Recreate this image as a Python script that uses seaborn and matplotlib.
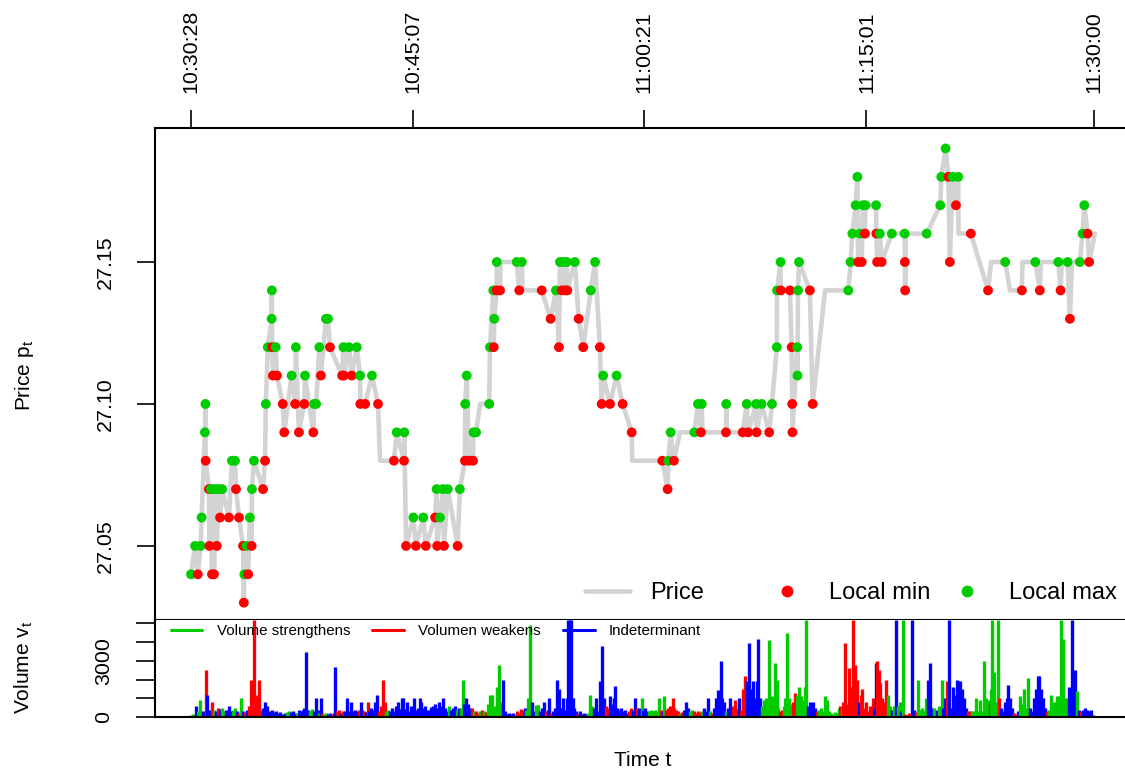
import numpy as np
import pandas as pd
import matplotlib
matplotlib.use("Agg")
import matplotlib.pyplot as plt
import seaborn as sns
from matplotlib.lines import Line2D

# ---------------- data ----------------
# price path: seconds after 10:30:28, price, marker kind (M = local max, m = local min, "" = none)
p_time = [0, 16, 27, 38, 42, 55, 57, 58, 71, 73, 79, 83, 87, 91, 99, 102, 111, 115, 123, 150,
          162, 174, 178, 190, 206, 209, 211, 220, 226, 233, 240, 241, 249, 285, 293, 296, 304, 319, 320, 321,
          324, 335, 340, 363, 369, 398, 412, 415, 427, 448, 451, 484, 487, 495, 508, 514, 534, 542, 550, 598,
          603, 605, 625, 636, 656, 669, 670, 689, 716, 740, 748, 803, 814, 843, 844, 851, 880, 890, 919, 929,
          966, 972, 974, 985, 997, 1001, 1016, 1055, 1064, 1084, 1085, 1091, 1100, 1116, 1118, 1128, 1144, 1180, 1183, 1196,
          1198, 1200, 1209, 1210, 1223, 1225, 1289, 1299, 1309, 1312, 1388, 1423, 1444, 1456, 1460, 1467, 1472, 1480, 1487, 1489,
          1519, 1534, 1552, 1582, 1599, 1618, 1625, 1631, 1658, 1684, 1708, 1744, 1746, 1865, 1886, 1889, 1898, 1911, 1935, 1992,
          2006, 2018, 2021, 2024, 2117, 2118, 2120, 2183, 2199, 2205, 2236, 2238, 2258, 2288, 2299, 2318, 2319, 2333, 2334, 2370,
          2377, 2379, 2380, 2399, 2400, 2402, 2406, 2449, 2460, 2509, 2601, 2610, 2617, 2630, 2637, 2640, 2647, 2654, 2659, 2667,
          2669, 2711, 2712, 2715, 2726, 2733, 2773, 2824, 2825, 2826, 2829, 2911, 2965, 2969, 2986, 2997, 3003, 3014, 3027, 3036,
          3037, 3086, 3154, 3166, 3222, 3241, 3288, 3290, 3341, 3359, 3363, 3432, 3441, 3446, 3469, 3478, 3486, 3517, 3528, 3535,
          3548, 3554, 3577]
p_price = [27.04, 27.05, 27.04, 27.05, 27.06, 27.09, 27.10, 27.08, 27.07, 27.05, 27.07, 27.04, 27.07, 27.04, 27.07, 27.05, 27.07, 27.06, 27.07, 27.06,
           27.08, 27.08, 27.07, 27.06, 27.05, 27.03, 27.04, 27.05, 27.04, 27.06, 27.05, 27.07, 27.08, 27.07, 27.08, 27.10, 27.12, 27.13, 27.14, 27.12,
           27.11, 27.12, 27.11, 27.10, 27.09, 27.11, 27.10, 27.12, 27.09, 27.10, 27.11, 27.09, 27.10, 27.10, 27.12, 27.11, 27.13, 27.13, 27.12, 27.11,
           27.12, 27.11, 27.12, 27.11, 27.12, 27.11, 27.10, 27.10, 27.11, 27.10, 27.08, 27.08, 27.09, 27.08, 27.09, 27.05, 27.06, 27.05, 27.06, 27.05,
           27.06, 27.07, 27.05, 27.06, 27.07, 27.05, 27.07, 27.05, 27.07, 27.08, 27.10, 27.11, 27.08, 27.08, 27.09, 27.09, 27.10, 27.10, 27.12, 27.14,
           27.12, 27.13, 27.14, 27.15, 27.14, 27.15, 27.15, 27.14, 27.15, 27.14, 27.14, 27.13, 27.14, 27.12, 27.15, 27.14, 27.15, 27.14, 27.15, 27.14,
           27.15, 27.13, 27.12, 27.14, 27.15, 27.12, 27.10, 27.11, 27.10, 27.11, 27.10, 27.09, 27.08, 27.08, 27.07, 27.08, 27.09, 27.08, 27.09, 27.09,
           27.10, 27.09, 27.10, 27.09, 27.09, 27.10, 27.09, 27.09, 27.10, 27.09, 27.10, 27.09, 27.10, 27.09, 27.10, 27.12, 27.14, 27.15, 27.14, 27.14,
           27.12, 27.10, 27.09, 27.12, 27.11, 27.14, 27.15, 27.14, 27.10, 27.14, 27.14, 27.15, 27.16, 27.17, 27.18, 27.15, 27.16, 27.15, 27.17, 27.16,
           27.17, 27.17, 27.16, 27.15, 27.16, 27.15, 27.16, 27.16, 27.15, 27.14, 27.16, 27.16, 27.17, 27.18, 27.19, 27.18, 27.15, 27.18, 27.17, 27.18,
           27.16, 27.16, 27.14, 27.15, 27.15, 27.14, 27.14, 27.15, 27.15, 27.14, 27.15, 27.15, 27.14, 27.15, 27.15, 27.13, 27.15, 27.15, 27.16, 27.17,
           27.16, 27.15, 27.16]
p_kind = ["M", "M", "m", "M", "M", "M", "M", "m", "m", "m", "M", "m", "M", "m", "M", "m", "M", "m", "M", "m",
          "M", "M", "m", "m", "m", "m", "M", "M", "m", "M", "m", "M", "M", "m", "m", "M", "M", "M", "M", "m",
          "m", "M", "m", "m", "m", "M", "m", "M", "m", "m", "M", "m", "M", "M", "M", "m", "M", "M", "m", "m",
          "M", "m", "M", "m", "M", "M", "m", "m", "M", "m", "", "m", "M", "m", "M", "m", "M", "m", "M", "m",
          "m", "M", "m", "M", "M", "m", "M", "m", "M", "m", "M", "M", "m", "m", "M", "M", "", "M", "M", "M",
          "m", "M", "m", "M", "m", "", "M", "m", "M", "", "m", "m", "M", "m", "M", "m", "M", "m", "M", "m",
          "M", "m", "m", "M", "M", "m", "m", "M", "m", "M", "m", "m", "", "m", "m", "M", "M", "m", "", "M",
          "M", "m", "M", "", "m", "M", "", "m", "M", "m", "M", "m", "M", "m", "M", "M", "M", "M", "m", "m",
          "m", "m", "m", "M", "M", "M", "M", "m", "m", "", "M", "M", "M", "M", "M", "m", "M", "m", "M", "m",
          "M", "M", "m", "m", "M", "m", "M", "M", "m", "m", "", "M", "M", "M", "M", "m", "m", "M", "m", "M",
          "", "m", "m", "", "M", "", "m", "", "M", "m", "", "M", "m", "", "M", "m", "", "M", "M", "M",
          "m", "m", ""]

# traded volume: seconds after 10:30:28, volume, class (s = strengthens, w = weakens, i = indeterminant)
v_time = [0, 8, 20, 28, 36, 47, 59, 63, 71, 82, 91, 99, 107, 115, 121, 131, 138, 150, 158, 166,
          174, 182, 190, 198, 206, 214, 222, 230, 237, 243, 249, 255, 260, 265, 270, 277, 285, 293, 301, 309,
          319, 328, 336, 344, 352, 364, 372, 380, 388, 396, 404, 412, 419, 427, 435, 443, 449, 455, 463, 471,
          479, 487, 493, 501, 506, 513, 520, 526, 534, 542, 550, 558, 564, 571, 578, 586, 594, 601, 609, 616,
          623, 633, 641, 649, 657, 665, 671, 677, 685, 692, 700, 706, 712, 720, 728, 737, 744, 752, 759, 766,
          772, 780, 787, 795, 803, 811, 819, 827, 833, 839, 847, 855, 863, 871, 876, 882, 890, 898, 906, 912,
          918, 926, 934, 942, 950, 958, 966, 973, 981, 989, 997, 1005, 1013, 1021, 1029, 1037, 1045, 1053, 1060, 1068,
          1075, 1080, 1088, 1096, 1104, 1112, 1120, 1128, 1136, 1144, 1152, 1159, 1167, 1175, 1183, 1191, 1199, 1210, 1219, 1227,
          1236, 1243, 1250, 1258, 1266, 1274, 1282, 1290, 1298, 1306, 1314, 1320, 1326, 1334, 1341, 1349, 1357, 1365, 1373, 1381,
          1389, 1397, 1405, 1411, 1418, 1424, 1432, 1440, 1449, 1456, 1464, 1472, 1480, 1486, 1492, 1498, 1504, 1510, 1515, 1523,
          1531, 1539, 1547, 1555, 1563, 1571, 1579, 1587, 1595, 1603, 1610, 1618, 1627, 1634, 1642, 1650, 1658, 1666, 1672, 1678,
          1686, 1694, 1702, 1710, 1717, 1725, 1733, 1741, 1749, 1757, 1765, 1773, 1783, 1789, 1797, 1804, 1812, 1820, 1828, 1836,
          1844, 1852, 1860, 1866, 1872, 1880, 1887, 1895, 1906, 1913, 1919, 1927, 1935, 1943, 1951, 1959, 1967, 1975, 1982, 1990,
          1998, 2006, 2014, 2022, 2030, 2038, 2046, 2054, 2062, 2070, 2077, 2085, 2096, 2103, 2109, 2117, 2125, 2131, 2137, 2145,
          2153, 2160, 2168, 2176, 2184, 2192, 2200, 2209, 2216, 2224, 2232, 2238, 2245, 2252, 2260, 2268, 2275, 2286, 2293, 2299,
          2310, 2317, 2323, 2331, 2339, 2347, 2352, 2360, 2366, 2374, 2382, 2390, 2398, 2406, 2414, 2422, 2428, 2434, 2442, 2449,
          2457, 2463, 2469, 2477, 2485, 2493, 2501, 2509, 2517, 2525, 2532, 2540, 2548, 2556, 2564, 2570, 2576, 2582, 2588, 2596,
          2605, 2612, 2621, 2627, 2637, 2643, 2651, 2657, 2663, 2671, 2679, 2687, 2697, 2703, 2711, 2716, 2722, 2728, 2734, 2742,
          2750, 2758, 2766, 2774, 2782, 2790, 2798, 2806, 2811, 2818, 2825, 2833, 2841, 2847, 2854, 2861, 2869, 2878, 2885, 2893,
          2900, 2908, 2916, 2924, 2932, 2940, 2946, 2952, 2960, 2971, 2976, 2984, 2990, 3001, 3007, 3016, 3023, 3030, 3037, 3044,
          3051, 3059, 3067, 3075, 3083, 3091, 3098, 3106, 3114, 3122, 3130, 3139, 3146, 3154, 3162, 3166, 3171, 3178, 3184, 3192,
          3199, 3205, 3213, 3221, 3229, 3234, 3241, 3249, 3257, 3265, 3273, 3281, 3288, 3296, 3304, 3313, 3320, 3328, 3336, 3344,
          3350, 3356, 3364, 3372, 3379, 3387, 3395, 3403, 3411, 3419, 3427, 3435, 3443, 3451, 3458, 3466, 3474, 3485, 3490, 3498,
          3506, 3514, 3522, 3530, 3538, 3545, 3553, 3561, 3569]
v_vol = [100, 150, 585, 300, 900, 300, 2500, 1170, 400, 800, 400, 300, 500, 450, 500, 300, 350, 600, 300, 350,
         500, 300, 200, 990, 300, 250, 350, 600, 1970, 900, 5200, 1000, 1170, 700, 2000, 400, 500, 780, 600, 300,
         350, 250, 300, 200, 250, 150, 200, 250, 300, 250, 300, 200, 200, 350, 300, 400, 500, 3470, 400, 300,
         450, 300, 1000, 400, 200, 1000, 200, 150, 200, 150, 200, 150, 200, 2680, 300, 400, 200, 300, 300, 1000,
         300, 800, 300, 400, 300, 350, 800, 400, 300, 250, 800, 300, 500, 400, 800, 1170, 300, 600, 2000, 800,
         300, 400, 300, 500, 300, 600, 800, 450, 1000, 1000, 450, 800, 300, 600, 400, 1000, 350, 500, 1000, 800,
         500, 600, 350, 400, 550, 600, 700, 500, 800, 600, 1000, 500, 300, 600, 350, 500, 600, 400, 500, 500,
         2000, 700, 1000, 700, 500, 500, 300, 300, 200, 300, 400, 300, 250, 700, 1170, 1200, 600, 1600, 2770, 800,
         1970, 300, 150, 200, 150, 200, 100, 300, 200, 450, 350, 500, 400, 1000, 4900, 800, 300, 650, 650, 300,
         500, 800, 300, 400, 1000, 200, 300, 500, 1970, 1500, 500, 1000, 400, 1000, 5200, 5200, 5200, 1000, 500, 300,
         200, 300, 150, 200, 150, 200, 1170, 600, 500, 1000, 300, 1900, 3780, 1000, 600, 500, 1100, 700, 1000, 1650,
         500, 400, 500, 300, 400, 200, 300, 500, 400, 1000, 500, 500, 1000, 400, 500, 300, 300, 400, 300, 400,
         300, 1000, 400, 300, 1100, 400, 500, 600, 1000, 500, 400, 300, 200, 250, 400, 800, 500, 300, 400, 300,
         200, 300, 250, 300, 500, 300, 1000, 300, 200, 500, 1000, 1450, 2980, 1000, 800, 300, 500, 1000, 500, 600,
         900, 500, 1000, 400, 1500, 2200, 1900, 3970, 1500, 1900, 1000, 1900, 4150, 1000, 600, 900, 1000, 4100, 900, 1100,
         2900, 1970, 500, 300, 400, 600, 1000, 4480, 1000, 700, 800, 1300, 1200, 1580, 1100, 900, 1580, 5200, 600, 800,
         500, 800, 500, 300, 400, 500, 300, 1100, 900, 300, 200, 150, 250, 200, 500, 600, 500, 800, 3970, 700,
         2590, 1600, 5200, 2800, 1970, 800, 1200, 1500, 500, 800, 300, 600, 1000, 500, 2870, 3000, 2500, 1800, 1000, 800,
         1970, 1170, 600, 400, 600, 5200, 600, 800, 300, 5200, 150, 100, 200, 150, 5200, 400, 250, 2000, 400, 500,
         300, 1000, 2000, 2900, 500, 500, 300, 400, 600, 2000, 500, 1000, 1900, 5200, 500, 1580, 1200, 2000, 1900, 1900,
         1500, 1000, 500, 300, 300, 300, 300, 1000, 300, 900, 300, 3000, 1000, 900, 800, 1500, 5200, 2400, 800, 5200,
         1000, 500, 300, 800, 1000, 1700, 1000, 500, 200, 150, 300, 1100, 700, 1500, 500, 2090, 500, 300, 1000, 1500,
         2200, 2200, 1500, 1000, 500, 300, 400, 1170, 800, 800, 1100, 1100, 5200, 4150, 1000, 1000, 1580, 5200, 1000, 2500,
         1380, 400, 300, 400, 500, 400, 300, 400, 100]
v_cls = list(
    "ssissiwiiwsiwissiiis"
    "siwsiwiwwwwwwwwwiiii"
    "iiiiiiissiiisiiiiiis"
    "siiisiwssiiwiiwwiwii"
    "iiiiiwiiwiwiiiiiwwww"
    "ssiiiiiiiiiiiiiiiiii"
    "iiiiiiiiiiiiisiiisis"
    "siiiiwswwswswsssssss"
    "iiiiiiiwwwwisssiissi"
    "iiwiiwiiiiiiiiiiiiii"
    "wiiiisssiiiiiiwwiiii"
    "iiiiiiwwiiwisiiissss"
    "sswiswwwwwwwswiiissw"
    "wwwsiiiswiiiiiisiiiw"
    "wwiwwwiiiiiiiissssss"
    "ssswwssssswwssssssii"
    "iiiwssssssssssswswww"
    "wwwwwiwwwwwwwiiwwwww"
    "wssisissiswwwwiiwsss"
    "ssiiississiiwiiiiiii"
    "iiiwwssssssssswsssss"
    "wiiiiiiiwwisssssiiii"
    "iiiiiwssssssssssiiii"
    "siwiiiiii"
)

tick_secs = [0, 879, 1793, 2673, 3572]
tick_labels = ["10:30:28", "10:45:07", "11:00:21", "11:15:01", "11:30:00"]
price_ticks = [27.05, 27.10, 27.15]
vol_ticks = [0, 1000, 2000, 3000, 4000, 5000]
vol_tick_labels = ["0", "", "", "3000", "", ""]

# ---------------- style ----------------
sns.set_theme(style="white")
plt.rcParams["font.family"] = ["Liberation Sans", "DejaVu Sans"]
plt.rcParams["mathtext.fontset"] = "custom"
plt.rcParams["mathtext.rm"] = "Liberation Sans"
plt.rcParams["mathtext.it"] = "Liberation Sans"
for key in ["text.color", "axes.labelcolor", "xtick.color", "ytick.color", "axes.edgecolor"]:
    plt.rcParams[key] = "black"

RED = "#FF0000"
GREEN = "#00CD00"
BLUE = "#0000FF"
GREY = "#D3D3D3"

W, H = 1125, 776
fig = plt.figure(figsize=(W / 100, H / 100), dpi=100)
fig.patch.set_facecolor("white")

left = 155 / W
ax = fig.add_axes([left, 1 - 620 / H, 1 - left, (620 - 128) / H])
axv = fig.add_axes([left, 1 - 717 / H, 1 - left, (717 - 620) / H])

xlim = (-142.5, 3696)
TICK_FS = 15.4

# price panel
df = pd.DataFrame({"t": p_time, "p": p_price, "k": p_kind})
sns.lineplot(data=df, x="t", y="p", sort=False, estimator=None, color=GREY,
             linewidth=3.3, ax=ax, legend=False)
pts = df[df["k"] != ""].copy()
pts["kind"] = pts["k"].map({"M": "Local max", "m": "Local min"})
sns.scatterplot(data=pts, x="t", y="p", hue="kind",
                palette={"Local max": GREEN, "Local min": RED},
                s=50, linewidth=0, ax=ax, legend=False, zorder=3)

ax.set_xlim(*xlim)
ax.set_ylim(27.0239, 27.1972)
ax.set_xlabel("")
ax.set_ylabel("")
ax.xaxis.tick_top()
ax.set_xticks(tick_secs)
ax.set_xticklabels(tick_labels, rotation=90, fontsize=TICK_FS, color="black")
ax.set_yticks(price_ticks)
ax.set_yticklabels([f"{v:.2f}" for v in price_ticks], rotation=90, va="center", fontsize=TICK_FS, color="black")
ax.tick_params(axis="x", which="both", top=True, bottom=False, length=13, width=1.2, pad=12, color="black")
ax.tick_params(axis="y", left=True, length=13, width=1.2, pad=16, color="black")
ax.spines["right"].set_visible(False)
for s in ["left", "top", "bottom"]:
    ax.spines[s].set_color("black")
    ax.spines[s].set_linewidth(1.5)

h1 = [Line2D([], [], color=GREY, linewidth=3.3)]
leg1 = ax.legend(h1, ["Price"], loc="center left", bbox_to_anchor=((585 - 155) / 970, (620 - 593) / 492),
                 frameon=False, fontsize=17, handlelength=1.9, handletextpad=0.85,
                 borderpad=0, borderaxespad=0, labelcolor="black")
ax.add_artist(leg1)
h2 = [Line2D([], [], color=RED, marker="o", linestyle="", markersize=8.5, markeredgewidth=0),
      Line2D([], [], color=GREEN, marker="o", linestyle="", markersize=8.5, markeredgewidth=0)]
ax.legend(h2, ["Local min", "Local max"], loc="center left", ncol=2,
          bbox_to_anchor=((764.5 - 155) / 970, (620 - 593) / 492),
          frameon=False, fontsize=17, handlelength=1.9, handletextpad=0.85,
          columnspacing=0.57, borderpad=0, borderaxespad=0, labelcolor="black")

# volume panel
cmap = {"s": GREEN, "w": RED, "i": BLUE}
vdf = pd.DataFrame({"t": v_time, "v": v_vol, "c": v_cls})
axv.vlines(vdf["t"], 0, vdf["v"], colors=[cmap[c] for c in vdf["c"]], linewidth=2.4)
axv.set_xlim(*xlim)
axv.set_ylim(0, 5175)
axv.set_xticks([])
axv.set_yticks(vol_ticks)
axv.set_yticklabels(vol_tick_labels, rotation=90, va="center", fontsize=TICK_FS, color="black")
axv.tick_params(axis="y", left=True, length=14, width=1.2, pad=16, color="black")
axv.spines["right"].set_visible(False)
axv.spines["top"].set_visible(False)
for s in ["left", "bottom"]:
    axv.spines[s].set_color("black")
    axv.spines[s].set_linewidth(1.5)

hv = [Line2D([], [], color=GREEN, linewidth=2.2),
      Line2D([], [], color=RED, linewidth=2.2),
      Line2D([], [], color=BLUE, linewidth=2.2)]
axv.legend(hv, ["Volume strengthens", "Volumen weakens", "Indeterminant"], ncol=3,
           loc="upper left", bbox_to_anchor=(14 / 970, 0.975), frameon=False, fontsize=10.9,
           handlelength=2.1, handletextpad=0.95, columnspacing=1.45, borderpad=0.1, borderaxespad=0,
           labelcolor="black")

fig.text(24 / W, 1 - 375 / H, r"Price p$_\mathrm{t}$", rotation=90, ha="center", va="center", fontsize=15, color="black")
fig.text(24 / W, 1 - 667 / H, r"Volume v$_\mathrm{t}$", rotation=90, ha="center", va="center", fontsize=15, color="black")
fig.text(643 / W, 1 - 760 / H, "Time t", ha="center", va="center", fontsize=15, color="black")

fig.savefig("out.png", dpi=100, facecolor="white")
